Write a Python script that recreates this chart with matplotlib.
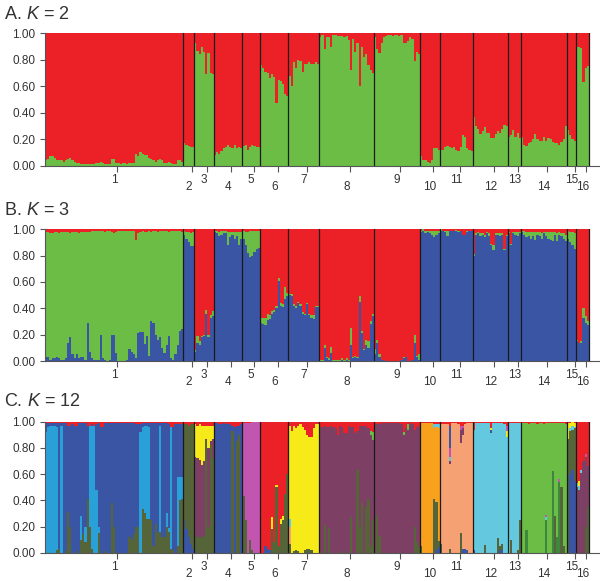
import matplotlib
matplotlib.use("Agg")
import matplotlib.pyplot as plt
import numpy as np

plt.rcParams["font.family"] = ["Liberation Sans", "DejaVu Sans"]
plt.rcParams["mathtext.fontset"] = "custom"
plt.rcParams["mathtext.it"] = "Liberation Sans:italic"
plt.rcParams["mathtext.rm"] = "Liberation Sans"

# ---------------- data ----------------
POP_LABELS = [str(i) for i in range(1, 17)]
POP_SIZES = [63, 5, 9, 13, 8, 13, 14, 25, 21, 9, 15, 16, 6, 21, 4, 6]
Y_TICKS = [0.0, 0.2, 0.4, 0.6, 0.8, 1.0]
TITLES = ["A. $\\it{K}$ = 2", "B. $\\it{K}$ = 3", "C. $\\it{K}$ = 12"]

COLORS = {"R": "#ec2027", "G": "#6bbd46", "B": "#3b55a5",
          "lb": "#2aa0d8", "db": "#3b55a5", "ol": "#56643a", "ye": "#f6ea18",
          "ma": "#7d3f63", "mg": "#c255b0", "re": "#ec2027", "or": "#f7a11d",
          "sa": "#f6a173", "cy": "#64c8de", "gr": "#6bbd46", "dg": "#3f873d"}

# Panel A (K=2): green membership per individual (red = remainder)
A_green = [
    # pop 1
    0.04, 0.05, 0.07, 0.07, 0.06, 0.04, 0.04, 0.04, 0.03, 0.04,
    0.05, 0.06, 0.04, 0.03, 0.02, 0.02, 0.01, 0.01, 0.01, 0.01,
    0.01, 0.01, 0.015, 0.02, 0.02, 0.03, 0.02, 0.01, 0.01, 0.01,
    0.05, 0.05, 0.02, 0.02, 0.01, 0.02, 0.02, 0.01, 0.02, 0.02,
    0.02, 0.09, 0.07, 0.10, 0.09, 0.08, 0.08, 0.06, 0.05, 0.04,
    0.03, 0.04, 0.05, 0.04, 0.02, 0.02, 0.03, 0.02, 0.01, 0.01,
    0.04, 0.04, 0.03,
    # pop 2
    0.17, 0.16, 0.15, 0.14, 0.14,
    # pop 3
    0.93, 0.87, 0.84, 0.90, 0.86, 0.69, 0.85, 0.70, 0.69,
    # pop 4
    0.08, 0.10, 0.09, 0.11, 0.13, 0.14, 0.16, 0.14, 0.13, 0.16, 0.13, 0.14, 0.13,
    # pop 5
    0.15, 0.16, 0.12, 0.14, 0.16, 0.15, 0.14, 0.14,
    # pop 6
    0.76, 0.74, 0.71, 0.70, 0.66, 0.69, 0.67, 0.47, 0.65, 0.64, 0.62, 0.54, 0.53,
    # pop 7
    0.68, 0.60, 0.78, 0.74, 0.80, 0.79, 0.71, 0.77, 0.77, 0.78, 0.77, 0.77, 0.78, 0.77,
    # pop 8
    0.97, 0.99, 0.88, 0.97, 0.97, 0.90, 0.99, 0.99, 0.98, 0.98, 0.98, 0.97, 0.98,
    0.95, 0.72, 0.96, 0.86, 0.93, 0.60, 0.90, 0.82, 0.84, 0.76, 0.72, 0.70,
    # pop 9
    0.97, 0.88, 0.85, 0.93, 0.97, 0.98, 0.99, 0.99, 0.98, 0.99, 0.99,
    0.98, 0.99, 0.93, 0.93, 0.94, 0.97, 0.96, 0.79, 0.86, 0.84,
    # pop 10
    0.07, 0.04, 0.04, 0.03, 0.02, 0.04, 0.13, 0.13, 0.12,
    # pop 11
    0.12, 0.12, 0.14, 0.15, 0.14, 0.13, 0.14, 0.12, 0.11, 0.14, 0.23, 0.22, 0.13, 0.12, 0.11,
    # pop 12
    0.37, 0.30, 0.28, 0.24, 0.26, 0.29, 0.25, 0.25, 0.21, 0.21, 0.24, 0.26, 0.25, 0.28, 0.31, 0.30,
    # pop 13
    0.22, 0.23, 0.27, 0.22, 0.25, 0.21,
    # pop 14
    0.22, 0.16, 0.15, 0.17, 0.18, 0.20, 0.24, 0.20, 0.19, 0.19, 0.22,
    0.19, 0.21, 0.20, 0.18, 0.17, 0.17, 0.16, 0.18, 0.20, 0.30,
    # pop 15
    0.27, 0.23, 0.20, 0.19,
    # pop 16
    0.90, 0.90, 0.89, 0.63, 0.74, 0.75,
]

# Panel B (K=3): blue (bottom) and red (top); green = remainder
B_blue = [
    # pop 1
    0.03, 0.03, 0.01, 0.02, 0.02, 0.03, 0.02, 0.01, 0.01, 0.02,
    0.14, 0.18, 0.05, 0.02, 0.05, 0.02, 0.03, 0.03, 0.01, 0.29,
    0.07, 0.02, 0.01, 0.01, 0.01, 0.20, 0.02, 0.01, 0.00, 0.01,
    0.20, 0.20, 0.06, 0.00, 0.00, 0.00, 0.00, 0.01, 0.09, 0.07,
    0.05, 0.02, 0.21, 0.22, 0.22, 0.13, 0.19, 0.04, 0.30, 0.29,
    0.20, 0.16, 0.18, 0.10, 0.06, 0.12, 0.19, 0.02, 0.01, 0.05,
    0.12, 0.23, 0.24,
    # pop 2
    0.96, 0.93, 0.90, 0.87, 0.87,
    # pop 3
    0.07, 0.14, 0.12, 0.18, 0.19, 0.36, 0.18, 0.33, 0.34,
    # pop 4
    0.98, 0.97, 0.95, 0.96, 0.97, 0.97, 0.88, 0.94, 0.96, 0.93, 0.95, 0.88, 0.93,
    # pop 5
    0.93, 0.88, 0.82, 0.79, 0.80, 0.83, 0.85, 0.86,
    # pop 6
    0.29, 0.28, 0.27, 0.31, 0.32, 0.36, 0.37, 0.40, 0.61, 0.42, 0.41, 0.47, 0.49,
    # pop 7
    0.50, 0.49, 0.42, 0.40, 0.44, 0.42, 0.36, 0.35, 0.43, 0.35, 0.33, 0.32, 0.41, 0.41,
    # pop 8
    0.00, 0.00, 0.10, 0.02, 0.01, 0.06, 0.00, 0.00, 0.00, 0.00, 0.01, 0.00, 0.01,
    0.00, 0.12, 0.02, 0.03, 0.02, 0.45, 0.21, 0.08, 0.12, 0.10, 0.28, 0.34,
    # pop 9
    0.05, 0.14, 0.03, 0.01, 0.01, 0.00, 0.00, 0.00, 0.00, 0.00, 0.00,
    0.00, 0.01, 0.02, 0.03, 0.00, 0.00, 0.01, 0.14, 0.03, 0.01,
    # pop 10
    0.98, 0.99, 0.97, 0.98, 0.97, 0.96, 0.94, 0.96, 0.97,
    # pop 11
    0.99, 0.99, 0.98, 0.95, 0.99, 0.99, 0.99, 0.99, 0.98, 0.99, 0.96, 0.96, 0.98, 0.99, 0.99,
    # pop 12
    0.80, 0.96, 0.97, 0.95, 0.96, 0.94, 0.97, 0.95, 0.88, 0.84, 0.96, 0.96, 0.95, 0.96, 0.84, 0.95,
    # pop 13
    0.97, 0.88, 0.97, 0.96, 0.95, 0.97,
    # pop 14
    0.98, 0.96, 0.94, 0.95, 0.93, 0.95, 0.92, 0.96, 0.95, 0.93, 0.97,
    0.95, 0.93, 0.92, 0.91, 0.96, 0.91, 0.96, 0.95, 0.93, 0.91,
    # pop 15
    0.93, 0.90, 0.88, 0.85,
    # pop 16
    0.15, 0.14, 0.14, 0.33, 0.29, 0.27,
]
B_red = [
    # pop 1
    0.02, 0.02, 0.03, 0.03, 0.02, 0.02, 0.03, 0.02, 0.02, 0.02,
    0.02, 0.03, 0.02, 0.02, 0.02, 0.03, 0.02, 0.02, 0.02, 0.02,
    0.02, 0.01, 0.01, 0.01, 0.01, 0.01, 0.01, 0.02, 0.01, 0.01,
    0.02, 0.03, 0.02, 0.01, 0.01, 0.01, 0.01, 0.01, 0.01, 0.01,
    0.01, 0.08, 0.03, 0.02, 0.01, 0.02, 0.02, 0.01, 0.02, 0.01,
    0.01, 0.02, 0.01, 0.01, 0.01, 0.01, 0.02, 0.01, 0.01, 0.01,
    0.01, 0.01, 0.02,
    # pop 2
    0.01, 0.02, 0.02, 0.03, 0.02,
    # pop 3
    0.92, 0.81, 0.85, 0.81, 0.80, 0.61, 0.80, 0.65, 0.62,
    # pop 4
    0.01, 0.01, 0.02, 0.01, 0.01, 0.01, 0.02, 0.02, 0.02, 0.02, 0.02, 0.02, 0.02,
    # pop 5
    0.01, 0.02, 0.02, 0.01, 0.01, 0.01, 0.01, 0.01,
    # pop 6
    0.67, 0.67, 0.67, 0.64, 0.65, 0.62, 0.61, 0.58, 0.37, 0.56, 0.57, 0.44, 0.48,
    # pop 7
    0.49, 0.49, 0.57, 0.58, 0.55, 0.57, 0.63, 0.64, 0.56, 0.64, 0.65, 0.65, 0.58, 0.58,
    # pop 8
    0.99, 0.99, 0.88, 0.97, 0.98, 0.89, 0.99, 0.99, 0.99, 0.99, 0.98, 0.99, 0.98,
    0.99, 0.75, 0.97, 0.96, 0.97, 0.51, 0.77, 0.91, 0.84, 0.85, 0.70, 0.64,
    # pop 9
    0.91, 0.84, 0.95, 0.99, 0.99, 1.00, 1.00, 1.00, 1.00, 1.00, 1.00,
    1.00, 0.99, 0.97, 0.97, 1.00, 1.00, 0.99, 0.80, 0.96, 0.95,
    # pop 10
    0.01, 0.00, 0.01, 0.01, 0.01, 0.01, 0.01, 0.01, 0.01,
    # pop 11
    0.00, 0.01, 0.01, 0.01, 0.01, 0.01, 0.01, 0.005, 0.01, 0.01, 0.04, 0.04, 0.01, 0.01, 0.01,
    # pop 12
    0.19, 0.03, 0.02, 0.03, 0.03, 0.04, 0.02, 0.03, 0.11, 0.12, 0.03, 0.03, 0.03, 0.03, 0.15, 0.04,
    # pop 13
    0.02, 0.11, 0.02, 0.02, 0.02, 0.02,
    # pop 14
    0.01, 0.01, 0.02, 0.02, 0.02, 0.02, 0.02, 0.02, 0.02, 0.03, 0.02,
    0.02, 0.02, 0.02, 0.02, 0.02, 0.03, 0.02, 0.03, 0.03, 0.04,
    # pop 15
    0.01, 0.02, 0.02, 0.03,
    # pop 16
    0.84, 0.86, 0.85, 0.60, 0.66, 0.70,
]

# Panel C (K=12): per population, fractions of the minor clusters;
# the population's main cluster takes the remainder.
C01_ol = [0, 0, 0, 0, 0, 0.02, 0.03, 0, 0, 0.01,
          0.31, 0.20, 0, 0, 0.01, 0, 0.10, 0.14, 0.08, 0.41,
          0.20, 0.03, 0, 0, 0.15, 0, 0, 0.01, 0, 0,
          0.38, 0.20, 0, 0, 0, 0, 0, 0, 0.12, 0.10,
          0.14, 0.20, 0.20, 0, 0.33, 0.30, 0.26, 0.26, 0.25, 0.05,
          0.22, 0.15, 0.16, 0.12, 0.12, 0.20, 0.16, 0.03, 0.02, 0,
          0.05, 0.40, 0.41]
C01_lb = [0.92, 0.96, 0.97, 0.97, 0.97, 0.94, 0, 0.97, 0, 0,
          0, 0, 0, 0, 0, 0, 0.18, 0, 0.12, 0,
          0.77, 0.94, 0.97, 0.48, 0.05, 0, 0, 0, 0, 0,
          0, 0, 0, 0, 0, 0, 0, 0, 0, 0,
          0, 0, 0, 0.92, 0.63, 0.67, 0.71, 0.70, 0, 0,
          0, 0, 0.81, 0, 0, 0.10, 0.03, 0.93, 0, 0,
          0.53, 0.18, 0.17]
C01_re = [0.01, 0.01, 0.01, 0.01, 0.01, 0.01, 0.01, 0.01, 0.01, 0.01,
          0.03, 0.03, 0.02, 0.03, 0.03, 0.01, 0.01, 0.01, 0.01, 0.03,
          0.03, 0.02, 0.03, 0.02, 0.01, 0.04, 0.04, 0.01, 0.01, 0.01,
          0.01, 0.01, 0.01, 0.01, 0.01, 0.01, 0.01, 0.01, 0.01, 0.01,
          0.01, 0.02, 0.02, 0.02, 0.01, 0.01, 0.01, 0.01, 0.01, 0.01,
          0.01, 0.01, 0.01, 0.01, 0.01, 0.01, 0.02, 0.04, 0.04, 0.02,
          0.02, 0.02, 0.02]
C02_db = [0.25, 0.18, 0.12, 0.07, 0.03]
C02_re = [0.02, 0.02, 0.03, 0.02, 0.02]
C03_ol = [0.13, 0.12, 0.12, 0.12, 0.13, 0.86, 0.20, 0.82, 0.72]
C03_ye = [0.25, 0.25, 0.27, 0.30, 0.27, 0.10, 0.17, 0.12, 0.10]
C03_re = [0.02, 0.03, 0.02, 0.03, 0.03, 0.03, 0.03, 0.03, 0.03]
C04_ol = [0, 0, 0, 0, 0, 0, 0, 0, 0.93, 0, 0.85, 0.90, 0]
C04_re = [0.01, 0.01, 0.02, 0.02, 0.01, 0.02, 0.02, 0.02, 0.03, 0.04, 0.03, 0.03, 0.02]
C05_ol = [0.43, 0.25, 0, 0.10, 0.02, 0, 0, 0]
C05_re = [0.01, 0.01, 0.01, 0.01, 0, 0, 0, 0]
C06_db = [0, 0, 0.05, 0.03, 0.02, 0, 0, 0, 0, 0, 0, 0, 0]
C06_ol = [0, 0, 0, 0, 0, 0.18, 0.08, 0.50, 0.05, 0.22, 0.25, 0.45, 0.60]
C06_ye = [0, 0, 0, 0, 0, 0.09, 0, 0.02, 0, 0.04, 0.03, 0, 0]
C07_ol = [0.07, 0, 0.01, 0.02, 0.01, 0, 0, 0.02, 0.03, 0.03, 0.02, 0, 0, 0]
C07_sa = [0.13, 0, 0, 0, 0, 0, 0, 0, 0, 0, 0, 0, 0, 0]
C07_cy = [0.06, 0, 0, 0, 0, 0, 0, 0, 0, 0, 0, 0, 0, 0]
C07_re = [0.03, 0.07, 0.03, 0.05, 0.03, 0.02, 0.04, 0.06, 0.10, 0.12, 0.12, 0.05, 0.02, 0.02]
C08_ol = [0.01, 0, 0.21, 0, 0.19, 0, 0, 0, 0, 0, 0.01, 0, 0,
          0, 0.27, 0, 0, 0.63, 0.20, 0.38, 0, 0.35, 0.41, 0.05, 0.25]
C08_gr = [0, 0, 0, 0, 0, 0, 0, 0, 0, 0, 0, 0, 0,
          0, 0, 0, 0, 0, 0, 0, 0, 0, 0, 0.03, 0.06]
C08_re = [0.04, 0.04, 0.03, 0.04, 0.04, 0.03, 0.04, 0.05, 0.10, 0.03, 0.04, 0.09, 0.09,
          0.03, 0.04, 0.04, 0.09, 0.07, 0.03, 0.03, 0.03, 0.03, 0.05, 0.07, 0.08]
C09_ol = [0, 0.29, 0.13, 0, 0, 0, 0, 0, 0, 0, 0, 0, 0, 0, 0, 0, 0, 0, 0.20, 0.08, 0.04]
C09_gr = [0, 0, 0, 0, 0, 0, 0, 0, 0, 0, 0, 0, 0, 0.02, 0, 0.04, 0, 0, 0, 0, 0]
C09_re = [0.02, 0.02, 0.02, 0.01, 0.01, 0.01, 0.01, 0.01, 0.01, 0.01, 0.01,
          0.01, 0.02, 0.08, 0.05, 0.02, 0.01, 0.02, 0.06, 0.04, 0.03]
C10_db = [0, 0, 0, 0, 0, 0, 0, 0.02, 0.04]
C10_ol = [0.05, 0, 0, 0, 0, 0, 0.41, 0.37, 0.05]
C10_cy = [0, 0, 0, 0, 0, 0, 0.03, 0.02, 0.03]
C10_re = [0.01, 0.01, 0.01, 0.01, 0.01, 0.01, 0.02, 0.02, 0.02]
C11_dblow = [0, 0, 0, 0, 0, 0, 0, 0, 0, 0, 0.03, 0.03, 0.02, 0, 0]
C11_ol = [0.07, 0, 0, 0, 0.03, 0, 0, 0, 0, 0.15, 0, 0, 0, 0, 0]
C11_ma = [0, 0, 0, 0, 0.02, 0, 0, 0, 0, 0.10, 0.05, 0, 0, 0, 0]
C11_cy = [0, 0, 0, 0, 0.03, 0, 0, 0, 0, 0, 0, 0, 0, 0, 0]
C11_mg = [0, 0, 0, 0, 0.07, 0, 0, 0, 0, 0.03, 0.02, 0, 0, 0, 0]
C11_dbtop = [0, 0, 0, 0, 0.17, 0, 0, 0, 0, 0, 0, 0, 0, 0, 0]
C11_re = [0.02, 0.02, 0.02, 0.02, 0.03, 0.01, 0.01, 0.01, 0.02, 0.03, 0.03, 0.02, 0.01, 0.01, 0.01]
C12_dblow = [0.02, 0, 0, 0, 0, 0, 0, 0, 0, 0, 0, 0, 0.02, 0.02, 0, 0]
C12_ol = [0, 0, 0, 0, 0, 0.06, 0, 0, 0, 0, 0, 0.11, 0.03, 0.05, 0, 0]
C12_dbtop = [0, 0, 0, 0, 0, 0, 0, 0, 0.03, 0, 0, 0, 0, 0, 0, 0]
C12_ye = [0, 0, 0, 0, 0, 0, 0, 0, 0.01, 0, 0, 0, 0, 0, 0, 0.05]
C12_mg = [0, 0, 0, 0, 0, 0, 0, 0, 0, 0, 0, 0, 0, 0, 0, 0.04]
C12_re = [0.06, 0.01, 0.01, 0.01, 0.01, 0.01, 0.01, 0.01, 0.05, 0.01, 0.01, 0.01, 0.01, 0.01, 0.02, 0.03]
C13_ol = [0, 0.10, 0, 0, 0.02, 0.25]
C13_re = [0.01, 0.01, 0.01, 0.01, 0.01, 0.01]
C14_ol = [0, 0, 0, 0, 0, 0, 0, 0, 0, 0, 0, 0, 0, 0, 0, 0.28, 0, 0, 0.50, 0.05, 0]
C14_dg = [0, 0, 0.17, 0, 0, 0, 0, 0, 0, 0, 0, 0.25, 0, 0, 0.62, 0, 0.12, 0.54, 0, 0, 0]
C14_cy = [0, 0, 0, 0, 0, 0, 0, 0, 0, 0, 0, 0.02, 0, 0, 0, 0, 0, 0, 0, 0, 0]
C14_mg = [0, 0, 0, 0, 0, 0, 0, 0, 0, 0, 0, 0.02, 0, 0, 0, 0, 0, 0.02, 0, 0, 0]
C14_re = [0.01, 0.01, 0.01, 0.02, 0.01, 0.01, 0.01, 0.02, 0.01, 0.01, 0.02,
          0.01, 0.01, 0.01, 0.01, 0.01, 0.01, 0.01, 0.01, 0.01, 0.02]
C15_db = [0, 0.60, 0.63, 0.55]
C15_cy = [0, 0.02, 0.03, 0.01]
C15_ye = [0.12, 0.04, 0.03, 0.03]
C15_re = [0.01, 0.01, 0.0, 0.01]
C16_ol = [0, 0, 0, 0, 0.20, 0.35]
C16_cy = [0.03, 0.03, 0.02, 0, 0, 0]
C16_ye = [0, 0.04, 0, 0, 0, 0]
C16_mg = [0, 0, 0, 0, 0.02, 0]
C16_re = [0.47, 0.45, 0.37, 0.30, 0.25, 0.34]

# stacking order bottom -> top; None marks the main cluster (remainder)
C_LAYERS = [
    [("ol", C01_ol), ("lb", C01_lb), ("db", None), ("re", C01_re)],
    [("db", C02_db), ("ol", None), ("re", C02_re)],
    [("ol", C03_ol), ("ma", None), ("ye", C03_ye), ("re", C03_re)],
    [("ol", C04_ol), ("db", None), ("re", C04_re)],
    [("ol", C05_ol), ("mg", None), ("re", C05_re)],
    [("db", C06_db), ("ol", C06_ol), ("ye", C06_ye), ("re", None)],
    [("ol", C07_ol), ("sa", C07_sa), ("cy", C07_cy), ("ye", None), ("re", C07_re)],
    [("ol", C08_ol), ("ma", None), ("gr", C08_gr), ("re", C08_re)],
    [("ol", C09_ol), ("ma", None), ("gr", C09_gr), ("re", C09_re)],
    [("db", C10_db), ("ol", C10_ol), ("or", None), ("cy", C10_cy), ("re", C10_re)],
    [("db", C11_dblow), ("ol", C11_ol), ("sa", None), ("ma", C11_ma), ("cy", C11_cy),
     ("mg", C11_mg), ("db", C11_dbtop), ("re", C11_re)],
    [("db", C12_dblow), ("ol", C12_ol), ("cy", None), ("db", C12_dbtop), ("ye", C12_ye),
     ("mg", C12_mg), ("re", C12_re)],
    [("ol", C13_ol), ("cy", None), ("re", C13_re)],
    [("ol", C14_ol), ("dg", C14_dg), ("cy", C14_cy), ("mg", C14_mg), ("gr", None), ("re", C14_re)],
    [("db", C15_db), ("ol", None), ("cy", C15_cy), ("ye", C15_ye), ("re", C15_re)],
    [("ol", C16_ol), ("ma", None), ("cy", C16_cy), ("ye", C16_ye), ("mg", C16_mg), ("re", C16_re)],
]

N = sum(POP_SIZES)
assert len(A_green) == N and len(B_blue) == N and len(B_red) == N
for p, spec in enumerate(C_LAYERS):
    for k, v in spec:
        if v is not None:
            assert len(v) == POP_SIZES[p], (p, k, len(v))


# ---------------- build stacks ----------------
def stacks_A():
    return [[("G", g), ("R", max(0.0, 1 - g))] for g in A_green]


def stacks_B():
    return [[("B", b), ("G", max(0.0, 1 - b - r)), ("R", r)] for b, r in zip(B_blue, B_red)]


def stacks_C():
    out = []
    for p, spec in enumerate(C_LAYERS):
        for j in range(POP_SIZES[p]):
            fixed = sum(v[j] for k, v in spec if v is not None)
            out.append([(k, v[j] if v is not None else max(0.0, 1 - fixed)) for k, v in spec])
    return out


# ---------------- figure ----------------
fig = plt.figure(figsize=(6.0, 5.81), dpi=100)
W, H = 600.0, 581.0
LEFT_PX = 45.0
DATA_RIGHT_PX = 589.0
XMAX = N * (W - LEFT_PX) / (DATA_RIGHT_PX - LEFT_PX)
panels = [  # (top px, bottom px, title baseline px)
    (33.3, 165.7, 19.3),
    (229.3, 361.0, 215.0),
    (421.7, 552.7, 405.7),
]
TEXT_C = "#333333"
AXIS_C = "#555555"
TICK_SHIFT = 1.5

bounds = np.cumsum(POP_SIZES)
starts = bounds - np.array(POP_SIZES)
mids = starts + np.array(POP_SIZES) / 2.0

for pi, (stack_fn, (top, bot, tb)) in enumerate(zip([stacks_A, stacks_B, stacks_C], panels)):
    ax = fig.add_axes([LEFT_PX / W, 1 - bot / H, 1 - LEFT_PX / W, (bot - top) / H])
    xs, bots, hs, cols = [], [], [], []
    for i, segs in enumerate(stack_fn()):
        b = 0.0
        for key, h in segs:
            if h > 0:
                xs.append(i)
                bots.append(b)
                hs.append(h)
                cols.append(COLORS[key])
            b += h
    ax.bar(xs, hs, bottom=bots, width=1.0, align="edge", color=cols,
           linewidth=0, antialiased=False)
    for bd in bounds:
        ax.axvline(bd, color="#1a1a1a", lw=0.9, zorder=3)
    ax.set_xlim(0, XMAX)
    ax.set_ylim(0, 1)
    for s in ["top", "right"]:
        ax.spines[s].set_visible(False)
    for s in ["left", "bottom"]:
        ax.spines[s].set_color(AXIS_C)
        ax.spines[s].set_linewidth(0.8)
    ax.set_yticks(Y_TICKS)
    ax.set_yticklabels(["%.2f" % v for v in Y_TICKS])
    ax.tick_params(axis="y", length=3.6, width=0.8, color=AXIS_C, pad=3.5,
                   labelsize=8.5, labelcolor=TEXT_C)
    ax.set_xticks(mids + TICK_SHIFT)
    ax.set_xticklabels([])
    ax.tick_params(axis="x", length=4.3, width=0.8, color=AXIS_C)
    for k, (m, lab) in enumerate(zip(mids, POP_LABELS)):
        dy = -6 if k % 2 == 0 else -11
        ax.annotate(lab, xy=(m, 0), xycoords=("data", "axes fraction"),
                    xytext=(0, dy), textcoords="offset points",
                    ha="center", va="top", fontsize=8.5, color=TEXT_C)
    fig.text(4 / W, 1 - tb / H, TITLES[pi], fontsize=13, color=TEXT_C,
             ha="left", va="baseline")

fig.savefig("out.png", dpi=100)
